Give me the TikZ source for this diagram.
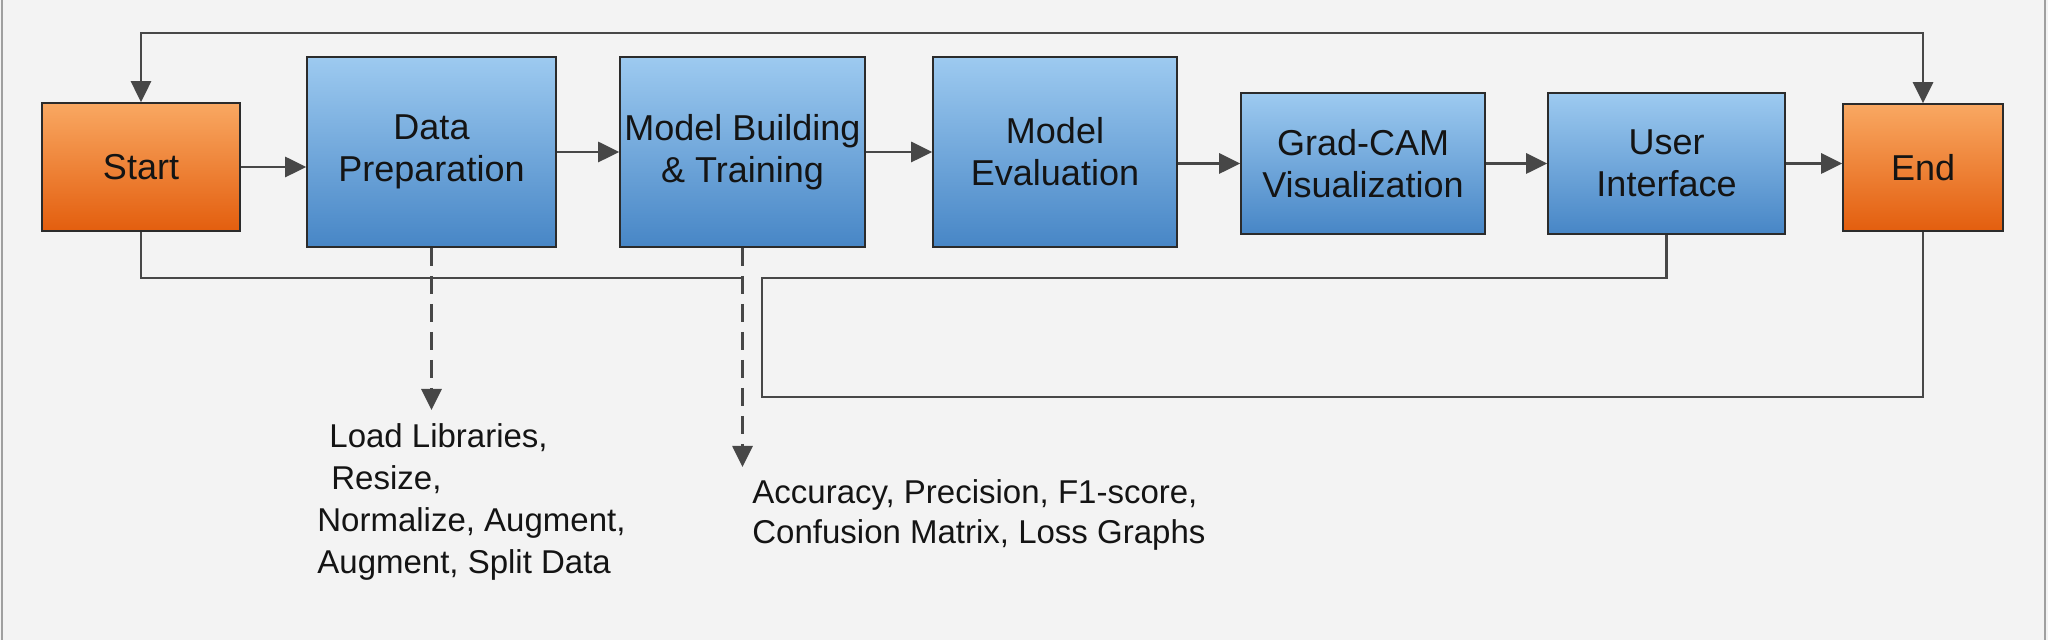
\documentclass[tikz,border=0pt]{standalone}
\usepackage{fontspec}
\setmainfont{Liberation Sans}
\usepackage{xcolor}
\usetikzlibrary{arrows.meta}
\definecolor{bgcol}{HTML}{F3F3F3}
\definecolor{linecol}{HTML}{474747}
\definecolor{edgecol}{HTML}{2B2B2B}
\definecolor{bluetop}{HTML}{9DCAF0}
\definecolor{bluebot}{HTML}{4786C6}
\definecolor{orgtop}{HTML}{F9A862}
\definecolor{orgbot}{HTML}{E35E0E}

\begin{document}
\begin{tikzpicture}[x=0.5pt,y=-0.5pt,
  >={Triangle[length=10.5pt,width=10pt]},
  box/.style={draw=edgecol,line width=0.8pt,top color=bluetop,bottom color=bluebot,
    align=center,text=black!92,font=\fontsize{18}{21}\selectfont,inner sep=2pt},
  term/.style={box,top color=orgtop,bottom color=orgbot},
  note/.style={align=left,anchor=north west,inner sep=0pt,text=black!92,
    font=\fontsize{16.5}{21}\selectfont},
  link/.style={draw=linecol,line width=1.4pt},
  dashlink/.style={link,->,dash pattern=on 9pt off 5pt,shorten >=6.5pt}]

  % background and frame
  \fill[bgcol] (0,0) rectangle (2048,640);
  \useasboundingbox (0,0) rectangle (2048,640);
  \draw[gray!75,line width=1.2pt] (2,0) -- (2,640) (2045,0) -- (2045,640);

  % main row
  \node[term,minimum width=99pt,minimum height=64pt]   (start)  at (141,167)    {Start};
  \node[box,minimum width=124.5pt,minimum height=95pt] (dp)     at (431.5,152)  {Data\\Preparation};
  \node[box,minimum width=122.5pt,minimum height=95pt] (mb)     at (742.5,152)  {Model Building\\\& Training};
  \node[box,minimum width=122pt,minimum height=95pt]   (me)     at (1055,152)   {Model\\Evaluation};
  \node[box,minimum width=122pt,minimum height=70.5pt] (gc)     at (1363,163.5) {Grad-CAM\\Visualization};
  \node[box,minimum width=118.5pt,minimum height=70.5pt] (ui)   at (1666.5,163.5) {User\\Interface};
  \node[term,minimum width=80pt,minimum height=63.5pt] (finish) at (1923,167.5) {End};

  % notes
  \node[note] (prep) at (317,423)
    {\hspace*{6pt}Load Libraries,\\\hspace*{7pt}Resize,\\Normalize, Augment,\\Augment, Split Data};
  \node[note,font=\fontsize{16.5}{20}\selectfont] (metrics) at (752,479)
    {Accuracy, Precision, F1-score,\\Confusion Matrix, Loss Graphs};

  % helper rows
  \coordinate (toprow) at (0,33);
  \coordinate (midrow) at (0,278);
  \coordinate (lowrow) at (0,397);
  \coordinate (turn)   at (762,0);

  \draw[link,->] (start.east) -- (start.east -| dp.west);
  \draw[link,->] (dp.east) -- (dp.east -| mb.west);
  \draw[link,->] (mb.east) -- (mb.east -| me.west);
  \draw[link,->] (me.east |- gc) -- (gc.west);
  \draw[link,->] (gc.east) -- (gc.east -| ui.west);
  \draw[link,->] (ui.east) -- (ui.east -| finish.west);

  \draw[link,<->] (start.north) |- (toprow -| finish.north) -- (finish.north);
  \draw[link] (start.south) |- (midrow -| mb.south);
  \draw[link] (ui.south) |- (midrow -| turn) -- (lowrow -| turn) -| (finish.south);

  \draw[dashlink] (dp.south) -- (dp.south |- prep.north);
  \draw[dashlink,shorten >=6pt] (mb.south) -- (mb.south |- metrics.north);
\end{tikzpicture}
\end{document}
